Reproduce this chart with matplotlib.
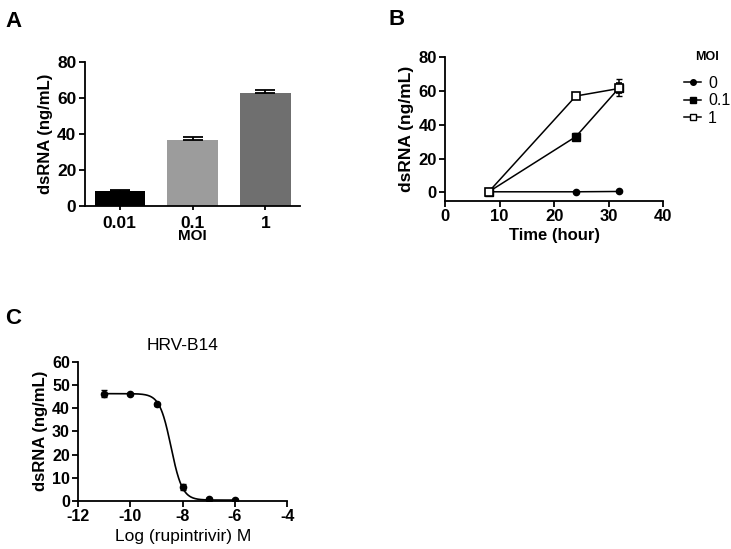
import numpy as np
import matplotlib
matplotlib.use('Agg')
import matplotlib.pyplot as plt
from matplotlib.lines import Line2D

plt.rcParams['font.family'] = ['Liberation Sans', 'DejaVu Sans']
plt.rcParams['axes.unicode_minus'] = False

# panel A
moi_labels = ['0.01', '0.1', '1']
moi_dsrna = [8.2, 36.8, 62.6]
moi_err = [0.4, 1.3, 2.0]
bar_colors = ['#000000', '#9c9c9c', '#6f6f6f']

# panel B
time_h = [8, 24, 32]
moi0 = [0.4, 0.4, 0.6]
moi0_err = [0.2, 0.2, 0.2]
moi01 = [0.4, 33.0, 62.0]
moi01_err = [0.3, 2.2, 5.0]
moi1 = [0.4, 57.0, 61.5]
moi1_err = [0.3, 0.8, 3.0]

# panel C
log_conc = [-11, -10, -9, -8, -7, -6]
dose_dsrna = [46.2, 46.0, 41.6, 6.0, 0.8, 0.5]
dose_err = [1.6, 0.5, 0.6, 1.3, 0.3, 0.3]
fit_top, fit_bottom, fit_logic50, fit_hill = 46.2, 0.4, -8.45, 2.0

fig = plt.figure(figsize=(7.31, 5.49), dpi=100)


def style(ax, tick_size):
    ax.spines['top'].set_visible(False)
    ax.spines['right'].set_visible(False)
    for s in ['left', 'bottom']:
        ax.spines[s].set_linewidth(1.3)
    ax.tick_params(width=1.3, length=4, labelsize=tick_size, pad=2)
    for lab in ax.get_xticklabels() + ax.get_yticklabels():
        lab.set_fontweight('bold')


# A
axA = fig.add_axes([0.116, 0.625, 0.294, 0.262])
x = np.arange(len(moi_labels))
axA.bar(x, moi_dsrna, width=0.69, color=bar_colors)
axA.errorbar(x, moi_dsrna, yerr=[[0] * 3, moi_err], fmt='none', ecolor='black',
             elinewidth=1.3, capsize=7, capthick=1.3)
axA.set_xlim(-0.48, 2.47)
axA.set_ylim(0, 80)
axA.set_yticks([0, 20, 40, 60, 80])
axA.set_xticks(x)
axA.set_xticklabels(moi_labels)
axA.set_ylabel('dsRNA (ng/mL)', fontsize=12, fontweight='bold', labelpad=3)
axA.set_xlabel('MOI', fontsize=11, fontweight='bold', labelpad=-1)
style(axA, 12.5)
axA.tick_params(axis='x', length=3, pad=4)

# B
axB = fig.add_axes([0.609, 0.634, 0.298, 0.262])
axB.errorbar(time_h, moi0, yerr=moi0_err, color='black', marker='o', ms=4.5,
             lw=1.1, capsize=2)
axB.errorbar(time_h, moi01, yerr=moi01_err, color='black', marker='s', ms=6,
             lw=1.1, capsize=2)
axB.errorbar(time_h, moi1, yerr=moi1_err, color='black', marker='s', ms=6,
             mfc='white', mew=1.2, lw=1.1, capsize=2)
axB.set_xlim(0, 40)
axB.set_ylim(-5, 80)
axB.set_xticks([0, 10, 20, 30, 40])
axB.set_yticks([0, 20, 40, 60, 80])
axB.set_xlabel('Time (hour)', fontsize=12, fontweight='bold', labelpad=3)
axB.set_ylabel('dsRNA (ng/mL)', fontsize=12.5, fontweight='bold', labelpad=3)
style(axB, 12)
handles = [Line2D([], [], color='black', marker='o', ms=4, lw=1.1),
           Line2D([], [], color='black', marker='s', ms=5, lw=1.1),
           Line2D([], [], color='black', marker='s', ms=5, lw=1.1, mfc='white')]
leg = axB.legend(handles, ['0', '0.1', '1'], title='MOI', loc='upper left',
                 bbox_to_anchor=(1.03, 1.14), frameon=False, fontsize=11.5,
                 handlelength=1.1, handletextpad=0.4, labelspacing=0.15)
leg.get_title().set_fontweight('bold')
leg.get_title().set_fontsize(9)
leg._legend_box.sep = 9

# C
axC = fig.add_axes([0.107, 0.0874, 0.286, 0.254])
xs = np.linspace(-11, -6, 300)
ys = fit_bottom + (fit_top - fit_bottom) / (1 + 10 ** ((xs - fit_logic50) * fit_hill))
axC.plot(xs, ys, color='black', lw=1.2)
axC.errorbar(log_conc, dose_dsrna, yerr=dose_err, fmt='o', color='black', ms=4.5,
             capsize=2.5, elinewidth=1.2)
axC.set_xlim(-12, -4)
axC.set_ylim(0, 60)
axC.set_xticks([-12, -10, -8, -6, -4])
axC.set_yticks([0, 10, 20, 30, 40, 50, 60])
axC.set_title('HRV-B14', fontsize=12.5, pad=8)
axC.set_xlabel('Log (rupintrivir) M', fontsize=12.5, labelpad=3)
axC.set_ylabel('dsRNA (ng/mL)', fontsize=12, fontweight='bold', labelpad=3)
style(axC, 11.5)

fig.text(0.007, 0.95, 'A', fontsize=16, fontweight='bold')
fig.text(0.532, 0.955, 'B', fontsize=16, fontweight='bold')
fig.text(0.007, 0.41, 'C', fontsize=16, fontweight='bold')

fig.savefig('out.png', dpi=100)
